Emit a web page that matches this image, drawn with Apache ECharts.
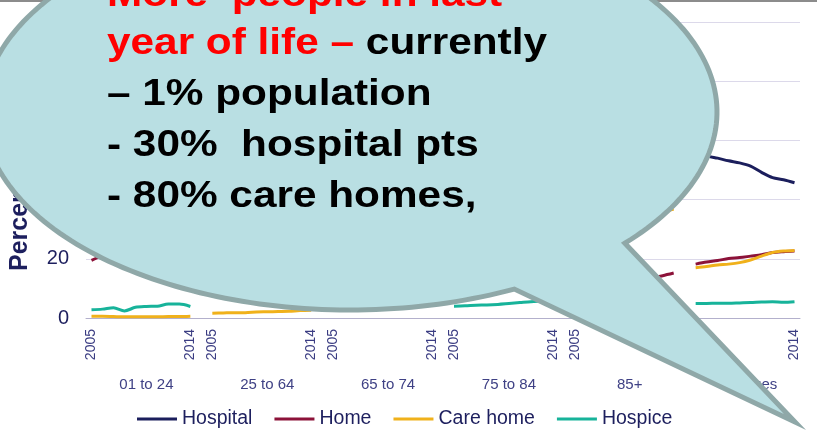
<!DOCTYPE html>
<html>
<head>
<meta charset="utf-8">
<script src="https://cdn.jsdelivr.net/npm/echarts@6/dist/echarts.min.js"></script>
<style>
html,body{margin:0;padding:0;background:#fff;}
#chart{width:817px;height:432px;}
</style>
</head>
<body>
<div id="chart"></div>
<script>
// ---- data ----
const groups = ['01 to 24', '25 to 64', '65 to 74', '75 to 84', '85+', 'All ages'];
const years = ['2005', '2006', '2007', '2008', '2009', '2010', '2011', '2012', '2013', '2014'];
const tickYears = ['2005', '2014'];
const seriesNames = ['Hospital', 'Home', 'Care home', 'Hospice'];
const yAxisTitle = 'Percentage';

const hospital = [
  [56.0, 55.5, 55.0, 54.8, 54.2, 53.5, 53.0, 52.1, 51.8, 51.0],
  [53.5, 52.8, 52.0, 51.0, 49.8, 48.6, 47.7, 46.8, 46.0, 45.4],
  [60.2, 59.5, 58.6, 57.5, 56.0, 54.8, 53.9, 52.9, 52.0, 51.6],
  [62.5, 62.0, 61.2, 60.2, 58.9, 57.6, 56.5, 55.4, 54.6, 54.0],
  [55.8, 55.0, 54.2, 53.0, 51.8, 50.5, 49.3, 48.1, 46.9, 46.3],
  [56.8, 54.8, 54.0, 53.1, 52.4, 51.3, 49.2, 47.4, 46.7, 45.7]
];
const home = [
  [19.5, 21.0, 21.8, 22.4, 23.0, 23.5, 24.3, 24.8, 25.5, 26.0],
  [27.5, 28.0, 28.6, 29.2, 29.8, 30.5, 31.0, 31.6, 32.2, 32.8],
  [23.5, 24.0, 24.6, 25.2, 25.9, 26.6, 27.2, 27.8, 28.4, 29.0],
  [17.0, 17.4, 17.9, 18.4, 19.0, 19.6, 20.2, 20.8, 21.4, 22.0],
  [10.5, 10.8, 11.2, 11.6, 12.0, 12.4, 12.9, 13.5, 14.3, 15.2],
  [18.2, 18.9, 19.4, 20.1, 20.4, 20.9, 21.4, 22.1, 22.4, 22.6]
];
const careHome = [
  [0.6, 0.6, 0.5, 0.4, 0.4, 0.4, 0.4, 0.5, 0.5, 0.6],
  [1.6, 1.7, 1.8, 1.8, 2.0, 2.1, 2.2, 2.3, 2.5, 2.6],
  [5.0, 5.1, 5.2, 5.4, 5.5, 5.6, 5.8, 5.9, 6.0, 6.2],
  [15.0, 15.4, 15.8, 16.2, 16.7, 17.1, 17.5, 17.9, 18.3, 18.8],
  [31.5, 32.0, 32.5, 33.0, 33.6, 34.2, 34.6, 35.2, 35.8, 36.8],
  [17.0, 17.4, 17.9, 18.2, 18.7, 19.6, 20.9, 22.1, 22.6, 22.8]
];
const hospice = [
  [2.8, 3.0, 3.5, 2.4, 3.6, 3.9, 4.0, 4.7, 4.7, 3.9],
  [11.0, 11.3, 11.5, 11.8, 12.0, 12.2, 12.4, 12.6, 12.8, 13.0],
  [8.8, 9.0, 9.2, 9.4, 9.6, 9.8, 10.0, 10.2, 10.4, 10.6],
  [4.0, 4.1, 4.3, 4.4, 4.6, 4.9, 5.2, 5.5, 5.7, 5.9],
  [2.0, 2.1, 2.2, 2.3, 2.4, 2.5, 2.6, 2.7, 2.8, 3.0],
  [4.9, 4.9, 5.0, 5.0, 5.1, 5.2, 5.4, 5.5, 5.3, 5.5]
];

const calloutLines = [
  [{t: 'More  people in last', c: 'r'}],
  [{t: 'year of life – ', c: 'r'}, {t: 'currently', c: 'k'}],
  [{t: '– 1% population', c: 'k'}],
  [{t: '- 30%  hospital pts', c: 'k'}],
  [{t: '- 80% care homes,', c: 'k'}]
];

// ---- styles ----
const seriesColors = ['#1b1e5c', '#8c1239', '#f0b11b', '#17b39a'];
const FONT = '"Liberation Sans", Arial, sans-serif';
const calloutLineY = [-4, 44, 95.5, 146.5, 197.5];

// ---- build ----
const categories = [];
groups.forEach((g, gi) => {
  years.forEach(y => categories.push(gi + '|' + y));
  if (gi < groups.length - 1) categories.push(gi + '|gap');
});
function flatten(rows) {
  const out = [];
  rows.forEach((r, gi) => {
    r.forEach(v => out.push(v));
    if (gi < rows.length - 1) out.push(null);
  });
  return out;
}
const allData = [hospital, home, careHome, hospice];

// callout bubble shape (annotation overlay)
const cx = 350, cy = 112, rx = 367, ry = 198;
const aA = 41.5 * Math.PI / 180, aB = (63.4 - 360) * Math.PI / 180;
const pts = [];
const N = 240;
for (let i = 0; i <= N; i++) {
  const t = aA + (aB - aA) * i / N;
  pts.push([cx + rx * Math.cos(t), cy + ry * Math.sin(t)]);
}
pts.push([795, 422]);

const textEls = calloutLines.map((segs, li) => ({
  type: 'text',
  x: 107,
  y: calloutLineY[li],
  scaleX: 1.176,
  z: 102,
  style: {
    text: segs.map(s => '{' + s.c + '|' + s.t + '}').join(''),
    x: 0, y: 0,
    verticalAlign: 'middle',
    align: 'left',
    font: 'bold 36px ' + FONT,
    rich: {
      r: {fill: '#ff0000', font: 'bold 36px ' + FONT},
      k: {fill: '#000000', font: 'bold 36px ' + FONT}
    }
  }
}));

const chart = echarts.init(document.getElementById('chart'), null, {renderer: 'canvas'});
chart.setOption({
  animation: false,
  backgroundColor: '#ffffff',
  grid: {left: 86, right: 17, top: 22, bottom: 114, containLabel: false},
  legend: {
    data: seriesNames,
    left: 137,
    top: 409,
    padding: 0,
    icon: 'rect',
    itemWidth: 40,
    itemHeight: 3,
    itemGap: 22,
    textStyle: {fontSize: 19.5, color: '#1d1f5e', fontFamily: FONT}
  },
  xAxis: [
    {
      type: 'category',
      data: categories,
      boundaryGap: true,
      axisLine: {show: true, lineStyle: {color: '#b3b0cc', width: 1}},
      axisTick: {show: false},
      axisLabel: {
        interval: 0, rotate: 90, margin: 11, fontSize: 14, color: '#3a3c82', fontFamily: FONT,
        formatter: function (v) { const y = v.split('|')[1]; return tickYears.indexOf(y) >= 0 ? y : ''; }
      },
      splitLine: {show: false}
    },
    {
      type: 'category',
      data: categories,
      boundaryGap: true,
      position: 'bottom',
      offset: 51,
      axisLine: {show: false},
      axisTick: {show: false},
      axisLabel: {
        interval: 0, margin: 8, fontSize: 15, color: '#3f4185', fontFamily: FONT,
        formatter: function (v, i) { return i % 11 === 5 ? groups[Math.floor(i / 11)] : ''; }
      },
      splitLine: {show: false}
    }
  ],
  yAxis: {
    type: 'value',
    min: 0, max: 100, interval: 20,
    axisLine: {show: false},
    axisTick: {show: false},
    axisLabel: {fontSize: 20, color: '#1d1f5e', margin: 17, fontFamily: FONT},
    splitLine: {show: true, lineStyle: {color: '#dcd9ea', width: 1}}
  },
  series: seriesNames.map((name, si) => ({
    name: name,
    type: 'line',
    xAxisIndex: 0,
    data: flatten(allData[si]),
    symbol: 'none',
    smooth: 0.3,
    connectNulls: false,
    itemStyle: {color: seriesColors[si]},
    lineStyle: {color: seriesColors[si], width: 3}
  })),
  graphic: [
    {type: 'rect', z: 50, shape: {x: 0, y: 0, width: 817, height: 2}, style: {fill: '#8c8c8c'}},
    {type: 'text', z: 60, x: 20.5, y: 271, rotation: Math.PI / 2,
      style: {text: yAxisTitle, x: 0, y: 0, align: 'left', verticalAlign: 'middle',
        font: 'bold 25px ' + FONT, fill: '#1d1f5e'}},
    {type: 'polygon', z: 100, shape: {points: pts}, style: {fill: '#b9dfe3', stroke: '#8fa8a8', lineWidth: 5, lineJoin: 'miter'}}
  ].concat(textEls)
});
</script>
</body>
</html>
